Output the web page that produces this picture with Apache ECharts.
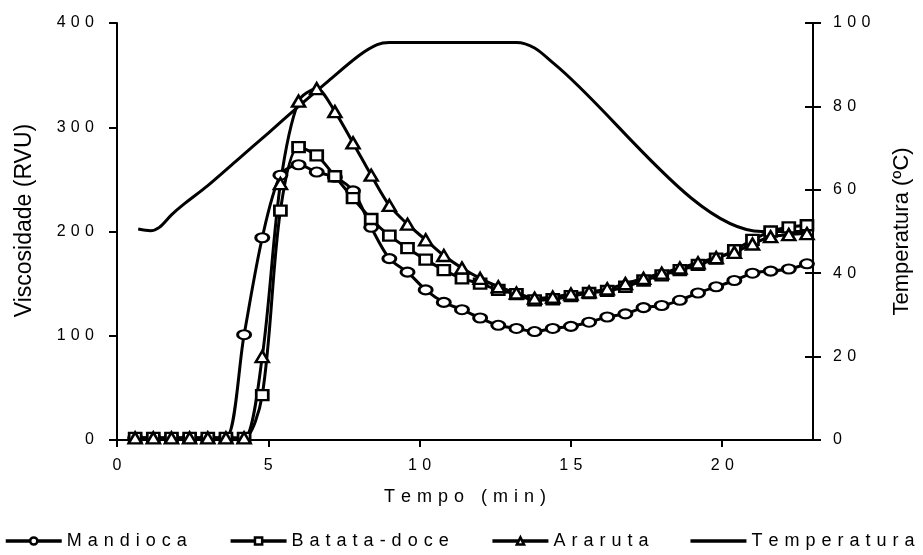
<!DOCTYPE html>
<html>
<head>
<meta charset="utf-8">
<script src="https://cdn.jsdelivr.net/npm/echarts@6/dist/echarts.min.js"></script>
<style>
  html, body { margin: 0; padding: 0; background: #fff; }
  #chart { width: 923px; height: 555px; }
</style>
</head>
<body>
<div id="chart"></div>
<script>
// RVA pasting curves: viscosity (RVU) of three starches and the temperature profile
const tempo = [0.6, 1.2, 1.8, 2.4, 3.0, 3.6, 4.2, 4.8, 5.4, 6.0, 6.6, 7.2, 7.8, 8.4, 9.0, 9.6, 10.2, 10.8, 11.4,
  12.0, 12.6, 13.2, 13.8, 14.4, 15.0, 15.6, 16.2, 16.8, 17.4, 18.0, 18.6, 19.2, 19.8, 20.4, 21.0, 21.6, 22.2, 22.8];

const mandioca = [2, 2, 2, 2, 2, 2, 101, 194, 254, 264, 257, 252, 239, 204, 174, 161, 144, 132, 125,
  117, 110, 107, 104, 107, 109, 113, 118, 121, 127, 129, 134, 141, 147, 153, 160, 162, 164, 169];

const batataDoce = [2, 2, 2, 2, 2, 2, 2, 43, 220, 281, 273, 253, 232, 212, 196, 184, 173, 163, 155,
  150, 144, 140, 134, 135, 138, 141, 143, 147, 153, 158, 163, 168, 174, 182, 192, 200, 204, 206];

const araruta = [2, 2, 2, 2, 2, 2, 2, 80, 246, 325, 337, 315, 285, 254, 225, 207, 192, 177, 165,
  155, 147, 141, 136, 137, 140, 142, 145, 150, 155, 160, 165, 170, 175, 180, 188, 195, 197, 198];

const tempoTemperatura = [0.7, 1.1, 1.4, 1.8, 2.2, 3.0, 4.0, 5.0, 6.0, 7.0, 8.0, 8.6, 9.0, 13.2, 13.8, 14.4, 21.3, 22.8];
const temperatura = [50.6, 50.2, 51.0, 54.0, 56.5, 61.0, 67.3, 73.6, 80.0, 86.2, 92.2, 94.8, 95.3, 95.3, 94.0, 90.5, 50.0, 50.0];

const xTicks = [0, 5, 10, 15, 20];

const FONT = "'Liberation Sans', Arial, sans-serif";
// widen the text the way the labels are typeset
const spaced = s => String(s).split('').join('\u2004');
const pairs = (xs, ys) => xs.map((x, i) => [x, ys[i]]);

const markerStyle = { color: '#fff', borderColor: '#000', borderWidth: 2.5 };
const lineStyle = { color: '#000', width: 3 };

function viscSeries(name, symbol, size, values) {
  return {
    name, type: 'line', yAxisIndex: 0,
    data: pairs(tempo, values),
    smooth: 0.3,
    symbol, symbolSize: size, showSymbol: true,
    itemStyle: markerStyle,
    lineStyle,
    emphasis: { disabled: true },
    z: 3
  };
}

const chart = echarts.init(document.getElementById('chart'), null, { renderer: 'canvas' });
chart.setOption({
  animation: false,
  backgroundColor: '#fff',
  textStyle: { fontFamily: FONT, color: '#000' },
  grid: { left: 117, right: 110, top: 23, bottom: 115, containLabel: false, outerBoundsMode: 'none' },
  legend: {
    bottom: 5, left: 4,
    itemWidth: 56, itemHeight: 9, itemGap: 42,
    padding: 0,
    lineStyle: { width: 3.5 },
    itemStyle: { borderWidth: 2.5 },
    textStyle: { fontFamily: FONT, fontSize: 18, color: '#000' },
    formatter: n => spaced(n),
    data: ['Mandioca', 'Batata-doce', 'Araruta',
      { name: 'Temperatura', icon: 'path://M0,0H100V6H0Z' }]
  },
  xAxis: {
    type: 'value', min: 0, max: 23, interval: 5,
    name: spaced('Tempo') + '\u2004 \u2004' + spaced('(min)'),
    nameLocation: 'middle', nameGap: 48,
    nameTextStyle: { fontFamily: FONT, fontSize: 18, color: '#000' },
    axisLine: { show: true, onZero: false, lineStyle: { color: '#000', width: 2 } },
    axisTick: { show: true, inside: false, length: 7, customValues: xTicks, lineStyle: { color: '#000', width: 2 } },
    axisLabel: { margin: 18, fontSize: 16, color: '#000', fontFamily: FONT, customValues: xTicks, formatter: v => spaced(v) },
    splitLine: { show: false }
  },
  yAxis: [
    {
      type: 'value', position: 'left', min: 0, max: 400, interval: 100,
      name: 'Viscosidade (RVU)', nameLocation: 'middle', nameRotate: 90, nameGap: 81,
      nameTextStyle: { fontFamily: FONT, fontSize: 23, color: '#000', padding: [0, 0, 0, 22] },
      axisLine: { show: true, lineStyle: { color: '#000', width: 2 } },
      axisTick: { show: true, inside: false, length: 8, lineStyle: { color: '#000', width: 2 } },
      axisLabel: { margin: 23, fontSize: 16, color: '#000', fontFamily: FONT, formatter: v => spaced(v) },
      splitLine: { show: false }
    },
    {
      type: 'value', position: 'right', min: 0, max: 100, interval: 20,
      name: 'Temperatura (ºC)', nameLocation: 'middle', nameRotate: 90, nameGap: 78,
      nameTextStyle: { fontFamily: FONT, fontSize: 22, color: '#000' },
      axisLine: { show: true, lineStyle: { color: '#000', width: 2 } },
      axisTick: { show: true, inside: false, length: 8, lineStyle: { color: '#000', width: 2 } },
      axisLabel: { margin: 20, fontSize: 16, color: '#000', fontFamily: FONT, formatter: v => spaced(v) },
      splitLine: { show: false }
    },
    {
      // inner half of the crossing ticks on the temperature axis
      type: 'value', position: 'right', min: 0, max: 100, interval: 20,
      axisLine: { show: false },
      axisTick: { show: true, inside: true, length: 8, lineStyle: { color: '#000', width: 2 } },
      axisLabel: { show: false },
      splitLine: { show: false }
    }
  ],
  series: [
    viscSeries('Mandioca', 'circle', [13, 9], mandioca),
    viscSeries('Batata-doce', 'rect', [12, 10], batataDoce),
    viscSeries('Araruta', 'triangle', [13, 11], araruta),
    {
      name: 'Temperatura', type: 'line', yAxisIndex: 1,
      data: pairs(tempoTemperatura, temperatura),
      smooth: 0.3, showSymbol: false, symbol: 'none',
      itemStyle: { color: '#000' },
      lineStyle,
      emphasis: { disabled: true },
      z: 2
    }
  ]
});
</script>
</body>
</html>
